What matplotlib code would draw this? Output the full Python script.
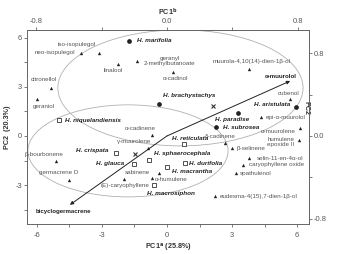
import numpy as np
import matplotlib
matplotlib.use('Agg')
import matplotlib.pyplot as plt
from matplotlib.patches import Ellipse

plt.rcParams['font.family'] = ['Liberation Sans', 'DejaVu Sans']
plt.rcParams['axes.unicode_minus'] = False

# compound scores (triangles)
compound_names = ['iso-isopulegol', 'neo-isopulegol', 'linalool', 'geranyl\n2-methylbutanoate',
                  'α-cadinol', 'muurola-4,10(14)-dien-1β-ol', 'cubenol', 'epi-α-muurolol',
                  'α-muurolene', 'humulene\nepoxide II', 'δ-cadinene', 'β-selinene',
                  'selin-11-en-4α-ol', 'caryophyllene oxide', 'spathulenol',
                  'eudesma-4(15),7-dien-1β-ol', 'α-cadinene', 'γ-muurolene', 'sabinene',
                  'α-humulene', '(E)-caryophyllene', 'citronellol', 'geraniol',
                  'β-bourbonene', 'germacrene D']
compound_pc1 = [-3.12, -3.97, -2.28, -1.40, 0.29, 3.80, 5.68, 4.35, 6.14, 6.10, 2.68, 3.01,
                3.80, 3.49, 3.18, 2.21, -0.71, -0.89, -0.36, -0.71, -1.98, -5.37, -5.99,
                -5.12, -4.52]
compound_pc2 = [5.08, 5.08, 4.39, 4.57, 3.92, 4.07, 2.24, 1.18, 0.51, -0.24, -0.45, -0.75,
                -1.36, -1.77, -2.28, -3.66, 0.06, -0.71, -2.27, -2.54, -2.62, 2.91, 2.27,
                -1.52, -2.68]

# loading arrows
loading_names = ['α-muurolol', 'bicyclogermacrene']
loading_pc1 = [5.68, -4.48]
loading_pc2 = [3.35, -4.20]

# species scores
species_names = ['H. marifolia', 'H. brachystachys', 'H. aristulata', 'H. paradise',
                 'H. subrosea', 'H. niquelandiensis', 'H. crispata', 'H. glauca',
                 'H. sphaerocephala', 'H. reticulata', 'H. durifolia', 'H. macrantha',
                 'H. macrosiphon']
species_pc1 = [-1.75, -0.36, 5.94, 3.29, 2.26, -5.00, -2.37, -1.51, -0.83, 0.80, 0.83, -0.01, -0.60]
species_pc2 = [5.81, 1.93, 1.79, 1.42, 0.53, 0.95, -1.06, -1.71, -1.46, -0.49, -1.63, -1.87, -3.02]
species_group = ['o', 'o', 'o', 'o', 'o', 's', 's', 's', 's', 's', 's', 's', 's']

# group centroids
centroid_pc1 = [2.10, -1.48]
centroid_pc2 = [1.80, -1.11]

# label offsets in pixels (dx, dy, ha)
compound_off = {
    'iso-isopulegol': (-23, 8.5, 'center'), 'neo-isopulegol': (-6, 0, 'right'),
    'linalool': (-4, -6.7, 'center'), 'geranyl\n2-methylbutanoate': (33, 0, 'center'),
    'α-cadinol': (2, -7, 'center'), 'muurola-4,10(14)-dien-1β-ol': (2, 7.6, 'center'),
    'cubenol': (-1.5, 5.5, 'center'), 'epi-α-muurolol': (4, -1.3, 'left'),
    'α-muurolene': (-5, -3.5, 'right'), 'humulene\nepoxide II': (-5, -2.5, 'right'),
    'δ-cadinene': (-5, 6.5, 'center'), 'β-selinene': (4.5, 0, 'left'),
    'selin-11-en-4α-ol': (7, 0, 'left'), 'caryophyllene oxide': (6, 0, 'left'),
    'spathulenol': (4, 0, 'left'), 'eudesma-4(15),7-dien-1β-ol': (5, -0.5, 'left'),
    'α-cadinene': (-11.7, 6.7, 'center'), 'γ-muurolene': (-14, 6, 'center'),
    'sabinene': (-9, 1, 'right'), 'α-humulene': (3.3, -1.6, 'left'),
    '(E)-caryophyllene': (1, -6.5, 'center'), 'citronellol': (-7, 8.3, 'center'),
    'geraniol': (6.4, -7.4, 'center'), 'β-bourbonene': (-12, 6, 'center'),
    'germacrene D': (-10, 7.3, 'center'),
}
loading_off = {'α-muurolol': (-9.5, 4.3, 'center'), 'bicyclogermacrene': (-6, -7, 'center')}
species_off = {
    'H. marifolia': (8, 0, 'left'), 'H. brachystachys': (4, 8.3, 'left'),
    'H. aristulata': (-6, 1.7, 'right'), 'H. paradise': (-6, -6.5, 'center'),
    'H. subrosea': (7, -0.5, 'left'), 'H. niquelandiensis': (6, 0, 'left'),
    'H. crispata': (-7.5, 2.6, 'right'), 'H. glauca': (-10, 0.7, 'right'),
    'H. sphaerocephala': (5, 6, 'left'), 'H. reticulata': (6, 5, 'center'),
    'H. durifolia': (4, -0.5, 'left'), 'H. macrantha': (5, -5, 'left'),
    'H. macrosiphon': (17, -8, 'center'),
}

TXT = '#555555'
SPC = '#222222'
FRAME = '#666666'

fig = plt.figure(figsize=(3.37, 2.54), dpi=100)
ax = fig.add_axes([0.080, 0.118, 0.837, 0.764])

# group ellipses
ax.add_patch(Ellipse((0.62, 2.93), 11.31, 7.07, fill=False, ec='#b0b0b0', lw=0.6))
ax.add_patch(Ellipse((-1.80, -0.91), 9.23, 5.61, fill=False, ec='#b0b0b0', lw=0.6))

# compounds
ax.plot(compound_pc1, compound_pc2, '^', ms=2.4, color='#222222', mew=0, ls='none')
for n, x, y in zip(compound_names, compound_pc1, compound_pc2):
    dx, dy, ha = compound_off[n]
    ax.annotate(n, (x, y), xytext=(dx, dy), textcoords='offset pixels', ha=ha, va='center',
                fontsize=4.5, color=TXT, multialignment=ha if ha != 'center' else 'center',
                linespacing=0.95)

# loading arrows
for n, x, y in zip(loading_names, loading_pc1, loading_pc2):
    ax.annotate('', xy=(x, y), xytext=(0, 0),
                arrowprops=dict(arrowstyle='-|>', color='#222222', lw=0.7, mutation_scale=5,
                                shrinkA=0, shrinkB=0))
    dx, dy, ha = loading_off[n]
    ax.annotate(n, (x, y), xytext=(dx, dy), textcoords='offset pixels', ha=ha, va='center',
                fontsize=4.4, color=SPC, fontweight='bold')

# species
for n, x, y, g in zip(species_names, species_pc1, species_pc2, species_group):
    if g == 'o':
        ax.plot(x, y, 'o', ms=3.4, color='#222222', mew=0)
    else:
        ax.plot(x, y, 's', ms=3.2, mfc='white', mec='#333333', mew=0.6)
    dx, dy, ha = species_off[n]
    ax.annotate(n, (x, y), xytext=(dx, dy), textcoords='offset pixels', ha=ha, va='center',
                fontsize=4.6, color=SPC, fontweight='bold', fontstyle='italic')

ax.plot(centroid_pc1, centroid_pc2, 'x', ms=3.2, color='#333333', mew=0.8, ls='none')

ax.set_xlim(-6.46, 6.55)
ax.set_ylim(-5.37, 6.46)
ax.set_xticks([-6, -3, 0, 3, 6])
ax.set_xticks([-4.5, -1.5, 1.5, 4.5], minor=True)
ax.set_yticks([-3, 0, 3, 6])
ax.set_yticks([-4.5, -1.5, 1.5, 4.5], minor=True)
ax.tick_params(which='both', direction='out', length=2.2, width=0.6, colors=FRAME,
               labelsize=5.4, labelcolor=TXT, pad=1.5)
ax.tick_params(axis='x', which='both', pad=3.5)
for s in ax.spines.values():
    s.set_color(FRAME)
    s.set_linewidth(0.7)

ax.set_xlabel(r'PC1$^{\mathbf{a}}$ (25.8%)', fontsize=5.2, fontweight='bold', color='#333333',
              labelpad=2.5)
ax.set_ylabel('PC2  (20.3%)', fontsize=5.2, fontweight='bold', color='#333333', labelpad=3)

top = ax.secondary_xaxis('top', functions=(lambda x: x / 7.55, lambda r: r * 7.55))
top.set_xticks([-0.8, 0.0, 0.8])
top.set_xticks([-0.4, 0.4], minor=True)
top.set_xticklabels(['-0.8', '0.0', '0.8'])
top.tick_params(which='both', direction='out', length=2.2, width=0.6, colors=FRAME,
                labelsize=5.4, labelcolor=TXT, pad=1.5)
top.set_xlabel(r'PC1$^{\mathbf{b}}$', fontsize=5.2, fontweight='bold', color='#333333',
               labelpad=2)

right = ax.secondary_yaxis('right', functions=(lambda y: y / 6.3, lambda r: r * 6.3))
right.set_yticks([-0.8, 0.0, 0.8])
right.set_yticks([-0.4, 0.4], minor=True)
right.set_yticklabels(['-0.8', '0.0', '0.8'])
right.tick_params(which='both', direction='out', length=2.2, width=0.6, colors=FRAME,
                  labelsize=5.4, labelcolor=TXT, pad=1.5)
right.set_ylabel('PC2', fontsize=5.2, fontweight='bold', color='#333333', rotation=270,
                 labelpad=8)
right.yaxis.set_label_coords(1.09, 0.6)
for sec in (top, right):
    for s in sec.spines.values():
        s.set_color(FRAME)
        s.set_linewidth(0.7)

fig.savefig('out.png', dpi=100)
